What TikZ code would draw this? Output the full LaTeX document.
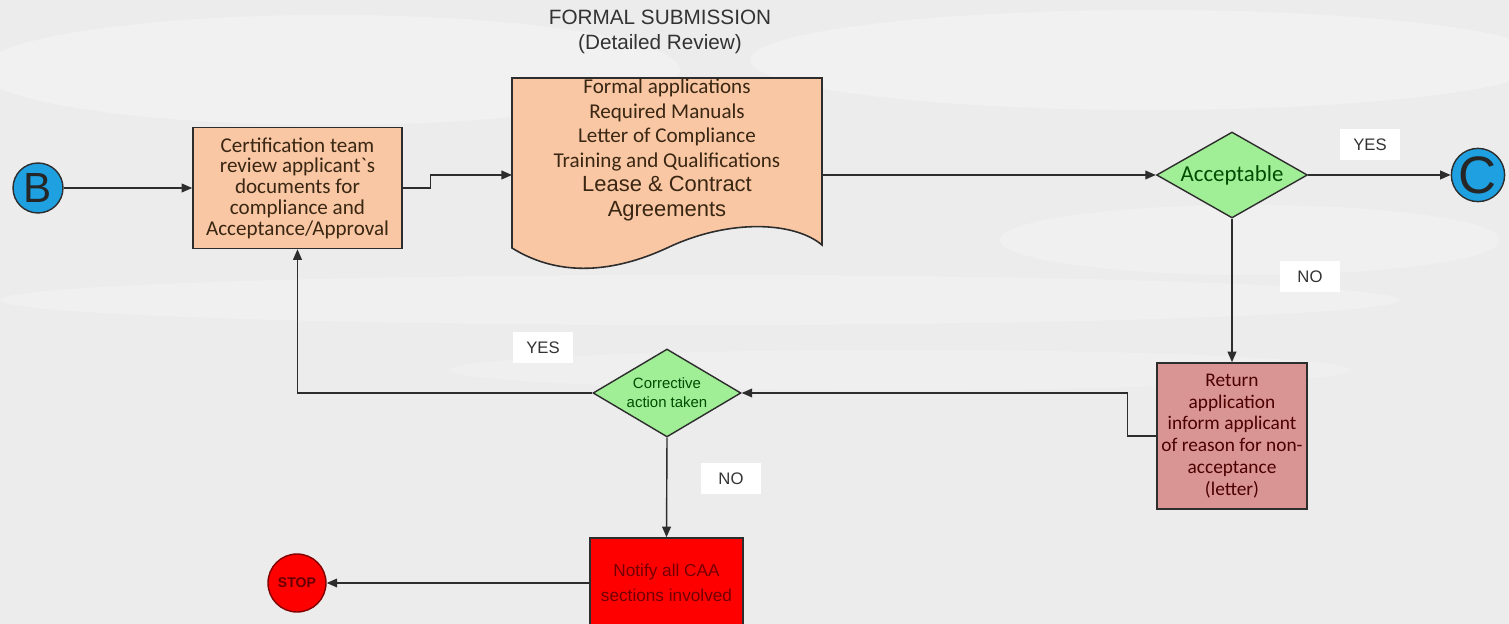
\documentclass[tikz,border=0pt]{standalone}
\usepackage{fontspec}
\setmainfont{Liberation Sans}
\newfontfamily\calibri{Carlito}
\usetikzlibrary{shapes.geometric}
\usetikzlibrary{arrows.meta}
\definecolor{bgc}{RGB}{236,236,236}
\definecolor{cblue}{RGB}{30,160,225}
\definecolor{peach}{RGB}{249,199,163}
\definecolor{lgreen}{RGB}{160,238,150}
\definecolor{rose}{RGB}{217,149,148}
\definecolor{linec}{RGB}{45,45,45}

\begin{document}
\begin{tikzpicture}[x=0.02cm,y=-0.02cm,
        flow/.style={draw=linec,line width=0.8pt,-{Triangle[length=6pt,width=5pt]}},
        box/.style={draw=linec,line width=0.9pt,inner sep=2pt,align=center},
        decision/.style={diamond,draw=linec,line width=0.8pt,fill=lgreen,inner sep=0pt,align=center,text=green!30!black},
        lbl/.style={fill=white,minimum width=1.2cm,minimum height=0.62cm,inner sep=0pt,font=\fontsize{9.5}{11}\selectfont,text=black!80}]
                \useasboundingbox (0,0) rectangle (1509,624);
                \fill[bgc] (0,0) rectangle (1509,624);
                \fill[white,opacity=.3] (330,70) ellipse (7cm and 1.1cm);
                \fill[white,opacity=.3] (1150,60) ellipse (8cm and 1cm);
                \fill[white,opacity=.25] (700,300) ellipse (14cm and 0.5cm);
                \fill[white,opacity=.25] (1250,240) ellipse (5cm and 0.7cm);
                \fill[white,opacity=.2] (900,370) ellipse (9cm and 0.4cm);

                \node[align=center,font=\fontsize{11.8}{14}\selectfont,text=black!80] (title) at (660,32) {FORMAL SUBMISSION\\(Detailed Review)};

                \node[circle,draw=linec,line width=0.8pt,fill=cblue,minimum size=1cm,inner sep=0pt,font=\fontsize{24}{24}\selectfont,text=black!85] (B) at (38,188) {B};
                \node[box,fill=peach,minimum width=4.18cm,minimum height=2.42cm,text=black!70!brown,font=\calibri\fontsize{12}{11.8}\selectfont] (review) at (297.5,188)
                    {Certification team\\review applicant`s\\documents for\\compliance and\\Acceptance/Approval};

                \coordinate (docin) at (512,175);
                \coordinate (docout) at (822,175);
                \filldraw[fill=peach,draw=linec,line width=0.9pt] (512,78) -- (822,78) -- (822,245)
                    .. controls (795,222) and (730,218) .. (667,248)
                    .. controls (615,272) and (560,278) .. (512,248) -- cycle;
                \node[align=center,text=black!70!brown,font=\calibri\fontsize{12}{13.9}\selectfont] (doctext) at (667,150)
                    {Formal applications\\Required Manuals\\Letter of Compliance\\Training and Qualifications\\{\rmfamily\fontsize{12.5}{13.9}\selectfont Lease \& Contract}\\{\rmfamily\fontsize{12.5}{13.9}\selectfont Agreements}};

                \node[decision,aspect=1.75,minimum width=3.02cm,minimum height=1.72cm,font=\calibri\fontsize{13}{14}\selectfont] (accept) at (1232,175) {Acceptable};
                \node[circle,draw=linec,line width=0.8pt,fill=cblue,minimum size=0.96cm,inner sep=0pt,font=\fontsize{30}{30}\selectfont,text=black!85] (C) at (1478,175) {C};

                \node[box,fill=rose,minimum width=3cm,minimum height=2.92cm,text=red!30!black,font=\calibri\fontsize{11}{12.4}\selectfont] (ret) at (1232,436)
                    {Return\\application\\inform applicant\\of reason for non-\\acceptance\\(letter)};

                \node[decision,aspect=1.68,minimum width=2.96cm,minimum height=1.76cm,font=\fontsize{8.5}{11}\selectfont] (corr) at (667,393) {Corrective\\action taken};

                \node[box,fill=red,minimum width=3.06cm,minimum height=1.8cm,text=red!45!black,font=\fontsize{9.8}{14}\selectfont] (notify) at (666.5,583) {Notify all CAA\\sections involved};
                \node[circle,draw=red!50!black,line width=0.8pt,fill=red,minimum size=1.16cm,inner sep=0pt,font=\bfseries\fontsize{8}{9}\selectfont,text=red!40!black] (stop) at (297,583) {STOP};

                \node[lbl] (yes1) at (1370,145) {YES};
                \node[lbl] (no1) at (1310,277) {NO};
                \node[lbl] (yes2) at (543,348) {YES};
                \node[lbl] (no2) at (731,479) {NO};

                \draw[flow] (B) -- (review);
                \draw[flow] (review.east) -- ++(28,0) |- (docin);
                \draw[flow] (docout) -- (accept.west);
                \draw[flow] (accept.east) -- (C.west);
                \draw[flow] (accept.south) -- (ret.north);
                \draw[flow] (ret.west) -- ++(-29,0) |- (corr.east);
                \draw[flow] (corr.west) -| (review.south);
                \draw[flow] (corr.south) -- (notify.north);
                \draw[flow] (notify.west) -- (stop.east);
            \end{tikzpicture}
\end{document}
